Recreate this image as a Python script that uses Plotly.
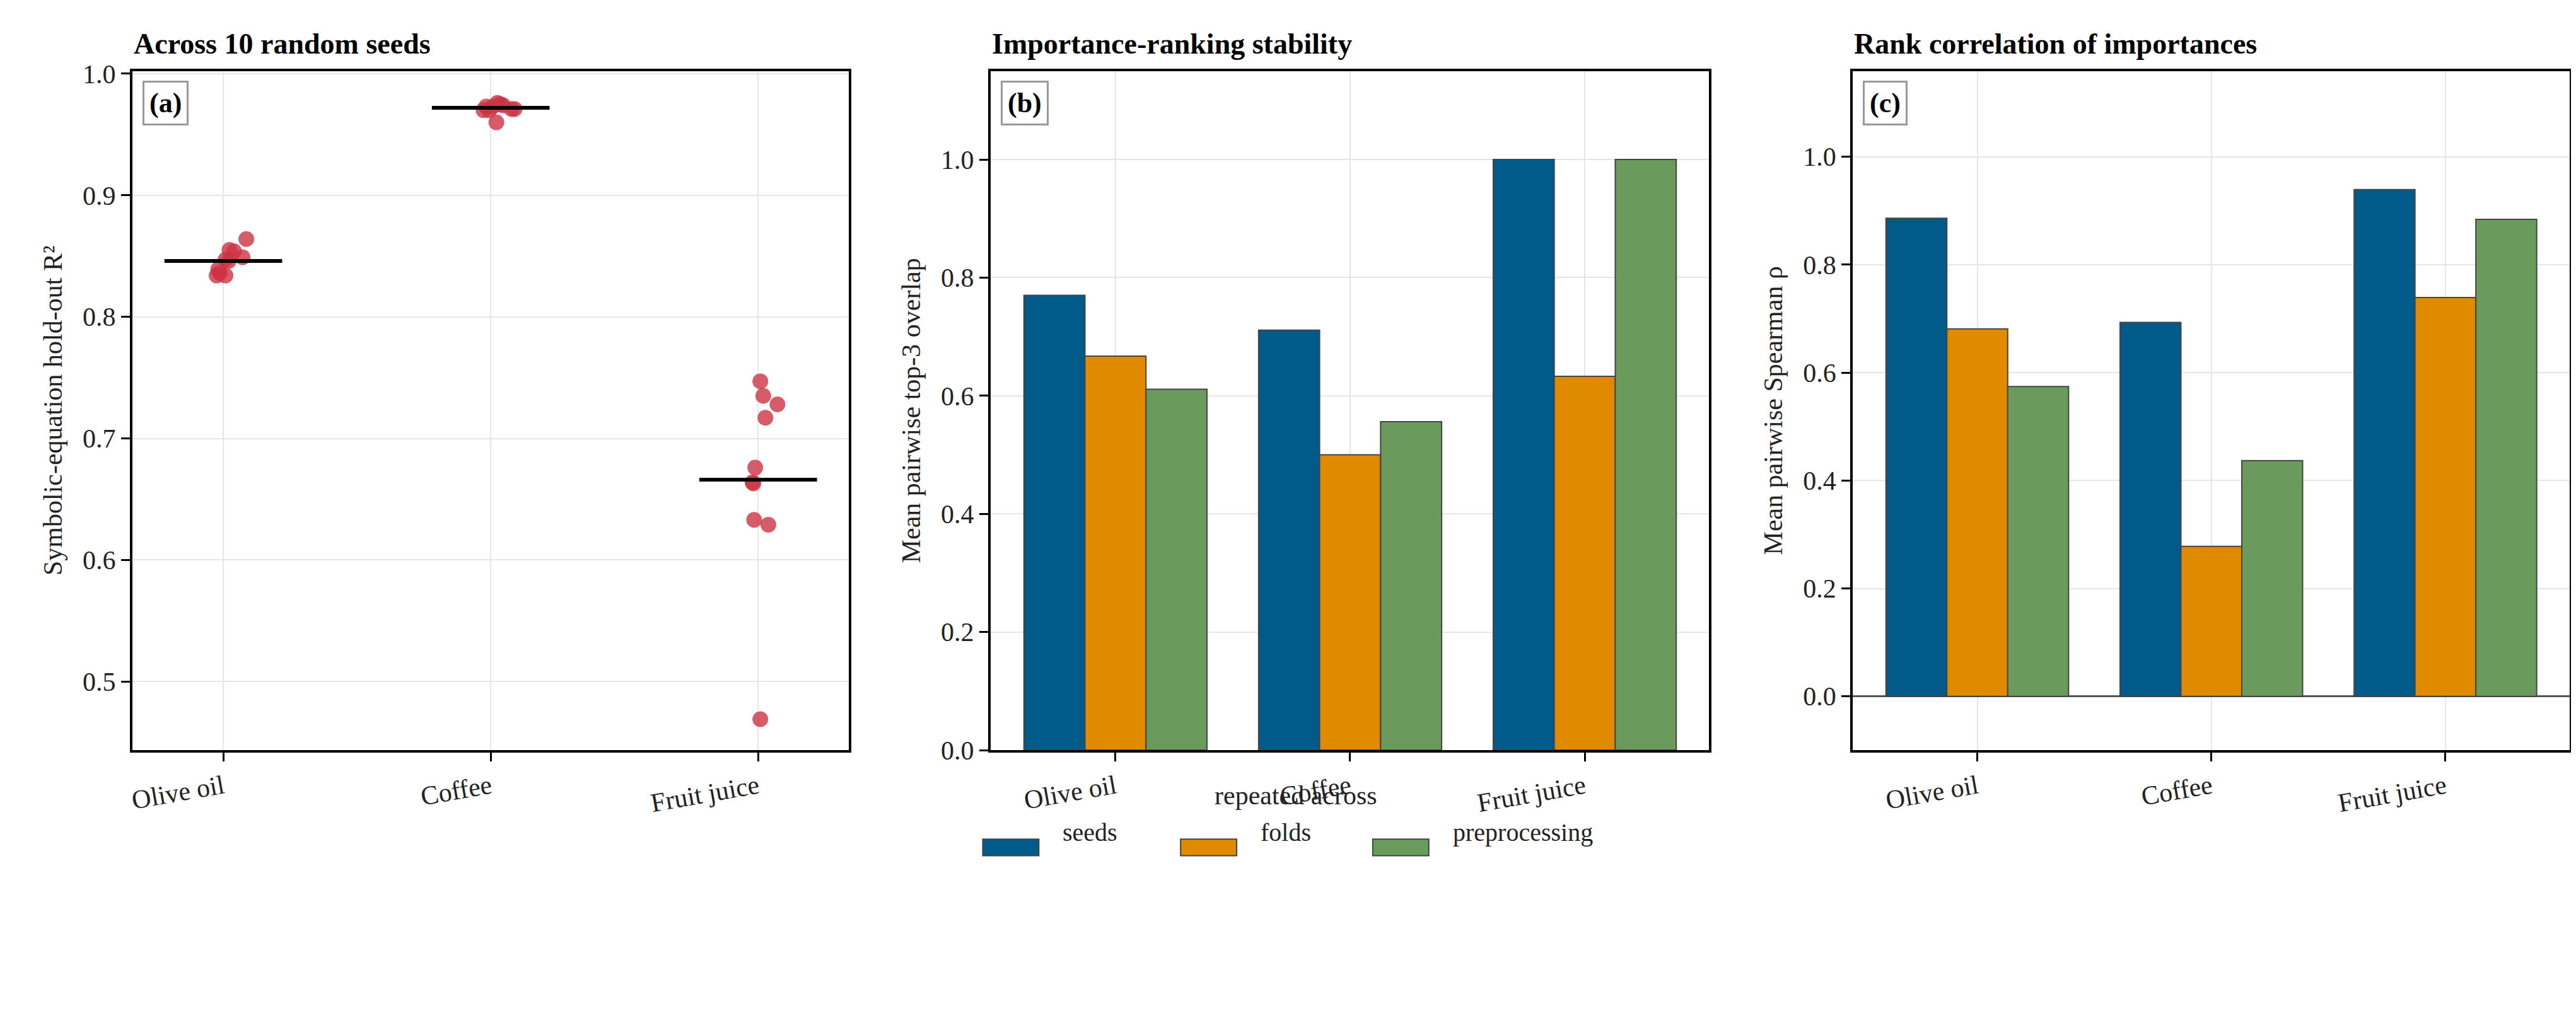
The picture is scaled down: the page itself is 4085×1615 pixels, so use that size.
import plotly.graph_objects as go

categories = ['Olive oil', 'Coffee', 'Fruit juice']

# panel (a): hold-out R2 per seed, with small horizontal jitter
olive_r2 = [0.864, 0.855, 0.854, 0.849, 0.847, 0.846, 0.839, 0.836, 0.834, 0.834]
olive_jit = [0.086, 0.023, 0.040, 0.072, 0.008, 0.020, -0.019, -0.013, 0.008, -0.025]
coffee_r2 = [0.976, 0.975, 0.974, 0.973, 0.973, 0.971, 0.971, 0.970, 0.970, 0.960]
coffee_jit = [0.025, 0.036, 0.046, -0.017, 0.008, 0.078, 0.089, -0.006, -0.027, 0.021]
juice_r2 = [0.747, 0.735, 0.728, 0.717, 0.676, 0.664, 0.663, 0.633, 0.629, 0.469]
juice_jit = [0.008, 0.019, 0.072, 0.027, -0.011, -0.021, -0.018, -0.015, 0.038, 0.008]
r2_means = [0.846, 0.972, 0.666]

# panel (b): mean pairwise top-3 overlap
overlap_seeds = [0.770, 0.711, 1.000]
overlap_folds = [0.667, 0.500, 0.633]
overlap_prep = [0.611, 0.556, 1.000]

# panel (c): mean pairwise Spearman rho
rho_seeds = [0.886, 0.693, 0.939]
rho_folds = [0.681, 0.278, 0.739]
rho_prep = [0.574, 0.437, 0.884]

series_names = ['seeds', 'folds', 'preprocessing']

FONT = 'Liberation Serif'
BLUE, ORANGE, GREEN = '#005b8a', '#e08a00', '#6a9a5c'
W, H = 4085, 1615

fig = go.Figure()

# (a) scatter
for i, (vals, jit) in enumerate([(olive_r2, olive_jit), (coffee_r2, coffee_jit), (juice_r2, juice_jit)]):
    fig.add_trace(go.Scatter(x=[i + j for j in jit], y=vals, mode='markers',
                             marker=dict(size=25, color='rgba(204,51,68,0.8)'),
                             showlegend=False, xaxis='x', yaxis='y'))
    fig.add_trace(go.Scatter(x=[i - 0.22, i + 0.22], y=[r2_means[i]] * 2, mode='lines',
                             line=dict(color='black', width=6),
                             showlegend=False, xaxis='x', yaxis='y'))

# (b) and (c) bars
for ax, data in [('2', (overlap_seeds, overlap_folds, overlap_prep)),
                 ('3', (rho_seeds, rho_folds, rho_prep))]:
    for vals, name, col in zip(data, series_names, [BLUE, ORANGE, GREEN]):
        fig.add_trace(go.Bar(x=categories, y=vals, name=name, marker_color=col,
                             marker_line=dict(color='#444444', width=2),
                             showlegend=False, xaxis='x' + ax, yaxis='y' + ax))

common_ax = dict(showline=True, linecolor='black', linewidth=4, mirror=True,
                 ticks='outside', ticklen=14, tickwidth=3, tickcolor='black',
                 showgrid=True, gridcolor='#e6e6e6', gridwidth=2, zeroline=False,
                 tickfont=dict(size=42, family=FONT, color='#222'))
cat_ax = dict(common_ax, tickangle=-10)

doms = [(0.0485, 0.327), (0.382, 0.661), (0.717, 0.9955)]
ydom = [0.26, 0.945]

fig.update_layout(
    width=W, height=H, paper_bgcolor='white', plot_bgcolor='white',
    margin=dict(l=0, r=0, t=0, b=0),
    font=dict(family=FONT, size=42, color='#222'),
    barmode='group', bargap=0.22, bargroupgap=0, showlegend=False,
    xaxis=dict(cat_ax, domain=doms[0], range=[-0.34, 2.34],
               tickvals=[0, 1, 2], ticktext=categories),
    yaxis=dict(common_ax, domain=ydom, range=[0.4436, 1.0023], dtick=0.1, tickformat='.1f',
               title=dict(text='Symbolic-equation hold-out R²', font=dict(size=42, family=FONT), standoff=20)),
    xaxis2=dict(cat_ax, domain=doms[1], range=[-0.532, 2.528], anchor='y2'),
    yaxis2=dict(common_ax, domain=ydom, range=[0, 1.15], dtick=0.2, tickformat='.1f', anchor='x2',
                title=dict(text='Mean pairwise top-3 overlap', font=dict(size=42, family=FONT), standoff=20)),
    xaxis3=dict(cat_ax, domain=doms[2], range=[-0.532, 2.53], anchor='y3'),
    yaxis3=dict(common_ax, domain=ydom, range=[-0.0996, 1.159], dtick=0.2, tickformat='.1f', anchor='x3',
                zeroline=True, zerolinecolor='#555555', zerolinewidth=3,
                title=dict(text='Mean pairwise Spearman ρ', font=dict(size=42, family=FONT), standoff=20)),
)

titles = ['Across 10 random seeds', 'Importance-ranking stability', 'Rank correlation of importances']
labels = ['(a)', '(b)', '(c)']
for (x0, x1), t, lab in zip(doms, titles, labels):
    fig.add_annotation(x=x0, y=0.955, xref='paper', yref='paper', xanchor='left', yanchor='bottom',
                       text='<b>' + t + '</b>', showarrow=False, font=dict(size=46, family=FONT, color='black'))
    fig.add_annotation(x=x0 + 0.004, y=0.935, xref='paper', yref='paper', xanchor='left', yanchor='top',
                       text='<b>' + lab + '</b>', showarrow=False, font=dict(size=44, family=FONT, color='black'),
                       bordercolor='#999999', borderwidth=3, borderpad=8, bgcolor='white')

# legend drawn by hand so the swatches match the wide patches of the original
fig.add_annotation(x=2045 / W, y=1 - 1295 / H, xref='paper', yref='paper', showarrow=False,
                   text='repeated across', font=dict(size=42, family=FONT, color='#222'))
swatch_x = [1548, 1862, 2167]
for sx, name, col in zip(swatch_x, series_names, [BLUE, ORANGE, GREEN]):
    fig.add_shape(type='rect', xref='paper', yref='paper',
                  x0=sx / W, x1=(sx + 89) / W, y0=1 - 1367 / H, y1=1 - 1340 / H,
                  fillcolor=col, line=dict(color='#444444', width=2))
    fig.add_annotation(x=(sx + 125) / W, y=1 - 1354 / H, xref='paper', yref='paper',
                       xanchor='left', showarrow=False, text=name,
                       font=dict(size=40, family=FONT, color='#222'))

fig.write_html("out.html")
